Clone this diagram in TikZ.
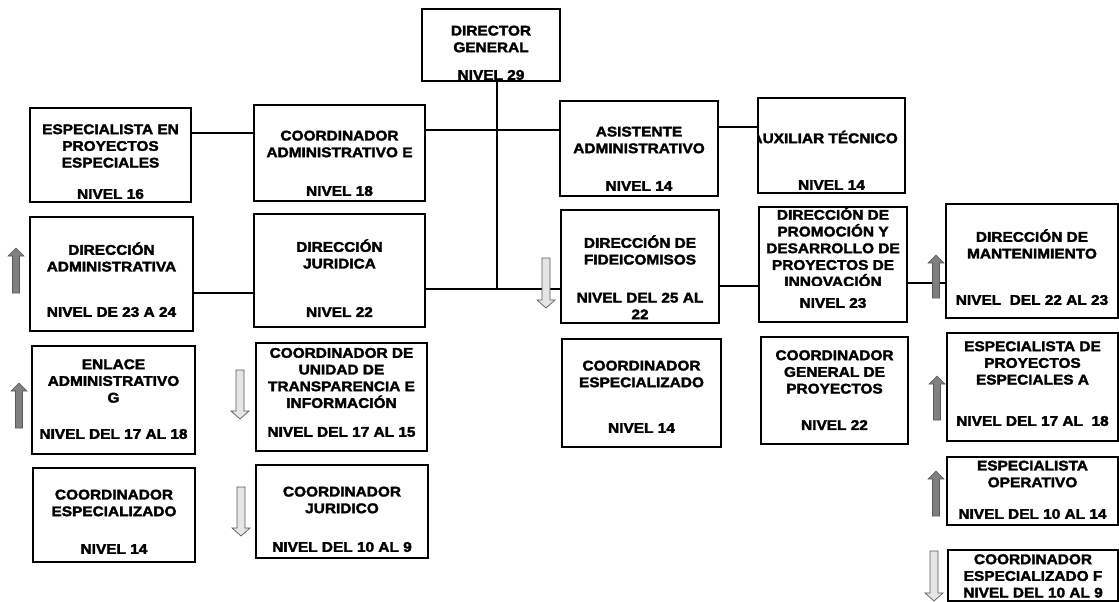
\documentclass[tikz,border=0pt]{standalone}
\usepackage{fontspec}
\newfontfamily\orgfont{Liberation Sans}[FakeStretch=1.1, BoldFeatures={FakeBold=2.4}]

\begin{document}
\begin{tikzpicture}[x=1pt, y=-1pt,
    caja/.style={draw, line width=2.2pt, inner sep=0pt},
    titulo/.style={align=center, inner sep=0pt, font=\orgfont\bfseries\fontsize{14}{16.7}\selectfont},
    linea/.style={line width=2.8pt},
    flechasube/.style={fill=black!50, draw=black!65, line width=0.6pt},
    flechabaja/.style={fill=black!10, draw=black!65, line width=0.7pt}]
    \useasboundingbox (0,0) rectangle (1119,602);

    % textos (antes de las cajas, el borde queda encima)
    \node[titulo] (dg-t) at (491,39) {DIRECTOR\\GENERAL};
    \node[titulo] (dg-n) at (491,75) {NIVEL 29};
    \node[titulo] (espe-t) at (110.5,146) {ESPECIALISTA EN\\PROYECTOS\\ESPECIALES};
    \node[titulo] (espe-n) at (110.5,194) {NIVEL 16};
    \node[titulo] (coorde-t) at (339.5,144) {COORDINADOR\\ADMINISTRATIVO E};
    \node[titulo] (coorde-n) at (339.5,191) {NIVEL 18};
    \node[titulo] (asis-t) at (639,140) {ASISTENTE\\ADMINISTRATIVO};
    \node[titulo] (asis-n) at (639,186) {NIVEL 14};
    \begin{scope}
        \clip (758,98) rectangle (905,193);
        \node[titulo, anchor=east] (aux-t) at (898,137) {AUXILIAR TÉCNICO};
    \end{scope}
    \node[titulo] (aux-n) at (831.5,185) {NIVEL 14};

    \node[titulo] (dadm-t) at (111.5,257) {DIRECCIÓN\\ADMINISTRATIVA};
    \node[titulo] (dadm-n) at (111.5,312) {NIVEL DE 23 A 24};
    \node[titulo] (djur-t) at (339.5,254) {DIRECCIÓN\\JURIDICA};
    \node[titulo] (djur-n) at (339.5,312) {NIVEL 22};
    \node[titulo] (dfid-t) at (640,250) {DIRECCIÓN DE\\FIDEICOMISOS};
    \node[titulo] (dfid-n) at (640,306) {NIVEL DEL 25 AL\\22};
    \begin{scope}
        \clip (759,207) rectangle (907,285);
        \node[titulo] (dprom-t) at (833,247) {DIRECCIÓN DE\\PROMOCIÓN Y\\DESARROLLO DE\\PROYECTOS DE\\INNOVACIÓN};
    \end{scope}
    \node[titulo] (dprom-n) at (833,303) {NIVEL 23};
    \node[titulo] (dmant-t) at (1032,244) {DIRECCIÓN DE\\MANTENIMIENTO};
    \node[titulo] (dmant-n) at (1032,300) {NIVEL\ \ DEL 22 AL 23};

    \node[titulo] (enl-t) at (113.5,381) {ENLACE\\ADMINISTRATIVO\\G};
    \node[titulo] (enl-n) at (113.5,434) {NIVEL DEL 17 AL 18};
    \node[titulo] (ctra-t) at (341.5,378) {COORDINADOR DE\\UNIDAD DE\\TRANSPARENCIA E\\INFORMACIÓN};
    \node[titulo] (ctra-n) at (341.5,432) {NIVEL DEL 17 AL 15};
    \node[titulo] (cesp2-t) at (641.5,374) {COORDINADOR\\ESPECIALIZADO};
    \node[titulo] (cesp2-n) at (641.5,428) {NIVEL 14};
    \node[titulo] (cgen-t) at (834.5,372) {COORDINADOR\\GENERAL DE\\PROYECTOS};
    \node[titulo] (cgen-n) at (834.5,425) {NIVEL 22};
    \node[titulo] (espa-t) at (1032.5,363) {ESPECIALISTA DE\\PROYECTOS\\ESPECIALES A};
    \node[titulo] (espa-n) at (1032.5,421) {NIVEL DEL 17 AL\ \ 18};

    \node[titulo] (cesp1-t) at (114,503) {COORDINADOR\\ESPECIALIZADO};
    \node[titulo] (cesp1-n) at (114,549) {NIVEL 14};
    \node[titulo] (cjur-t) at (342,500) {COORDINADOR\\JURIDICO};
    \node[titulo] (cjur-n) at (342,547) {NIVEL DEL 10 AL 9};
    \node[titulo] (espop-t) at (1032.5,474) {ESPECIALISTA\\OPERATIVO};
    \node[titulo] (espop-n) at (1032.5,514) {NIVEL DEL 10 AL 14};
    \node[titulo] (cespf-t) at (1033,576) {COORDINADOR\\ESPECIALIZADO F\\NIVEL DEL 10 AL 9};

    % cajas
    \node[caja, minimum width=138pt, minimum height=72pt] (dg) at (491,45) {};
    \node[caja, minimum width=161pt, minimum height=94pt] (espe) at (110.5,155) {};
    \node[caja, minimum width=171pt, minimum height=96pt] (coorde) at (339.5,153) {};
    \node[caja, minimum width=158pt, minimum height=95pt] (asis) at (639,148.5) {};
    \node[caja, minimum width=147pt, minimum height=95pt] (aux) at (831.5,145.5) {};
    \node[caja, minimum width=163pt, minimum height=114pt] (dadm) at (111.5,274) {};
    \node[caja, minimum width=171pt, minimum height=113pt] (djur) at (339.5,270.5) {};
    \node[caja, minimum width=158pt, minimum height=113pt] (dfid) at (640,266.5) {};
    \node[caja, minimum width=148pt, minimum height=115pt] (dprom) at (833,264.5) {};
    \node[caja, minimum width=172pt, minimum height=114pt] (dmant) at (1032,261) {};
    \node[caja, minimum width=163pt, minimum height=108pt] (enl) at (113.5,400) {};
    \node[caja, minimum width=171pt, minimum height=108pt] (ctra) at (341.5,397) {};
    \node[caja, minimum width=159pt, minimum height=108pt] (cesp2) at (641.5,393) {};
    \node[caja, minimum width=147pt, minimum height=107pt] (cgen) at (834.5,390.5) {};
    \node[caja, minimum width=171pt, minimum height=108pt] (espa) at (1032.5,387) {};
    \node[caja, minimum width=162pt, minimum height=94pt] (cesp1) at (114,515) {};
    \node[caja, minimum width=172pt, minimum height=93pt] (cjur) at (342,511.5) {};
    \node[caja, minimum width=171pt, minimum height=68pt] (espop) at (1032.5,491) {};
    \node[caja, minimum width=170pt, minimum height=51pt] (cespf) at (1033,575.5) {};

    % lineas de mando
    \coordinate (troncal) at (497,289);
    \draw[linea] (dg.south -| troncal) -- (troncal);
    \draw[linea] (espe.east |- 0,133) -- (coorde.west |- 0,133);
    \draw[linea] (coorde.east |- 0,130) -- (asis.west |- 0,130);
    \draw[linea] (asis.east |- 0,127) -- (aux.west |- 0,127);
    \draw[linea] (dadm.east |- 0,293) -- (djur.west |- 0,293);
    \draw[linea] (djur.east |- 0,289) -- (dfid.west |- 0,289);
    \draw[linea] (dfid.east |- 0,286) -- (dprom.west |- 0,286);
    \draw[linea] (dprom.east |- 0,283) -- (dmant.west |- 0,283);

    % flechas de nivel
    \foreach \x/\ya/\yb in {16/248/293, 19/383/428, 936/255/298, 937/376/420, 936/471/516}
        \filldraw[flechasube] (\x-3.5,\yb) -- (\x-3.5,\ya+8) -- (\x-8,\ya+8) -- (\x,\ya)
            -- (\x+8,\ya+8) -- (\x+3.5,\ya+8) -- (\x+3.5,\yb) -- cycle;
    \foreach \x/\ya/\yb in {546/258/308, 240/370/419, 241/487/536, 934/551/601}
        \filldraw[flechabaja] (\x-4,\ya) -- (\x-4,\yb-8) -- (\x-9,\yb-8) -- (\x,\yb)
            -- (\x+9,\yb-8) -- (\x+4,\yb-8) -- (\x+4,\ya) -- cycle;
\end{tikzpicture}
\end{document}
